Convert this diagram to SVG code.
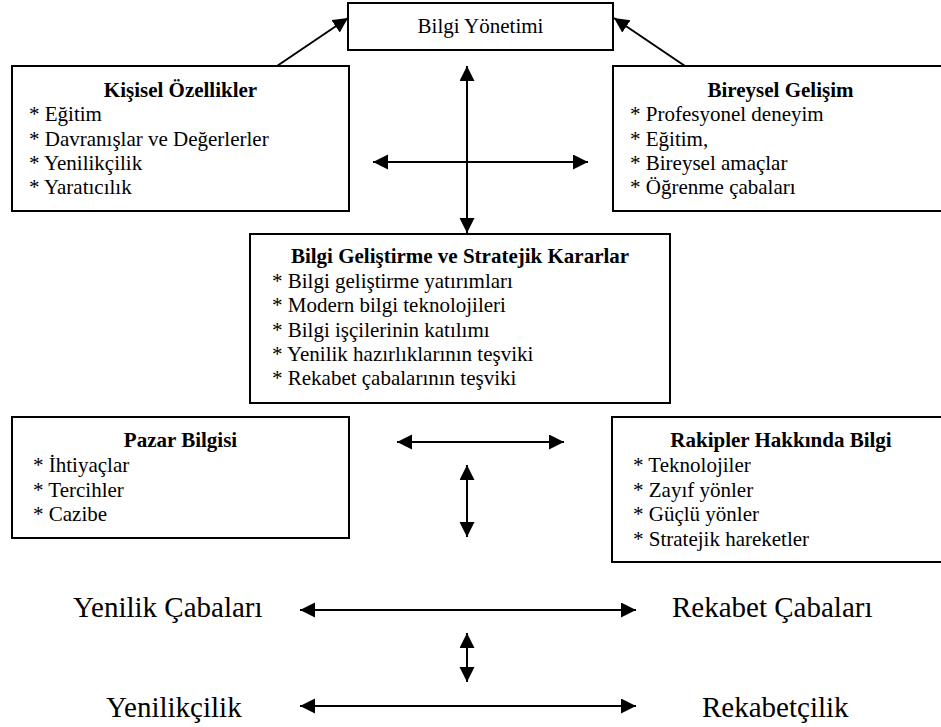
<svg xmlns="http://www.w3.org/2000/svg" width="941" height="727" viewBox="0 0 941 727" font-family="'Liberation Serif', 'Times New Roman', serif">
  <style>
    .box { fill: #ffffff; stroke: #000000; stroke-width: 2; }
    .lbl { font-family: 'Liberation Serif', 'Times New Roman', serif; font-size: 21px; fill: #000000; }
    .head { font-weight: bold; text-anchor: middle; }
    .mid { text-anchor: middle; }
    .big { font-family: 'Liberation Serif', 'Times New Roman', serif; font-size: 29px; fill: #000000; }
    .con { stroke: #000000; stroke-width: 2; fill: none; }
    .one { marker-end: url(#head); }
    .two { marker-start: url(#head); marker-end: url(#head); }
  </style>
  <defs>
    <marker id="head" markerUnits="userSpaceOnUse" markerWidth="16" markerHeight="16" refX="15" refY="7.5" orient="auto-start-reverse" viewBox="0 0 16 16">
      <path d="M0,0 L15,7.5 L0,15 Z" fill="#000000"/>
    </marker>
  </defs>

  <rect width="941" height="727" fill="#ffffff"/>

  <g id="connectors">
    <line class="con one" x1="277" y1="66" x2="348" y2="18"/>
    <line class="con one" x1="685" y1="66" x2="614" y2="18"/>
    <line class="con two" x1="467" y1="66" x2="467" y2="233"/>
    <line class="con two" x1="373" y1="162" x2="588" y2="162"/>
    <line class="con two" x1="397" y1="442" x2="564" y2="442"/>
    <line class="con two" x1="467" y1="465" x2="467" y2="537"/>
    <line class="con two" x1="300" y1="610" x2="636" y2="610"/>
    <line class="con two" x1="467" y1="633" x2="467" y2="682"/>
    <line class="con two" x1="300" y1="706" x2="636" y2="706"/>
  </g>

  <g id="bilgi-yonetimi" font-family="'Liberation Serif', serif">
    <rect class="box" x="348" y="3" width="265" height="47"/>
    <text class="lbl mid" x="480.5" y="33">Bilgi Yönetimi</text>
  </g>

  <g id="kisisel-ozellikler" font-family="'Liberation Serif', serif">
    <rect class="box" x="12" y="66" width="337" height="145"/>
    <text class="lbl head" x="180.5" y="97">Kişisel Özellikler</text>
    <text class="lbl" x="29" y="121">* Eğitim</text>
    <text class="lbl" x="29" y="145.5">* Davranışlar ve Değerlerler</text>
    <text class="lbl" x="29" y="169.5">* Yenilikçilik</text>
    <text class="lbl" x="29" y="194">* Yaratıcılık</text>
  </g>

  <g id="bireysel-gelisim" font-family="'Liberation Serif', serif">
    <rect class="box" x="613" y="66" width="337" height="145"/>
    <text class="lbl head" x="780.5" y="97">Bireysel Gelişim</text>
    <text class="lbl" x="630" y="121">* Profesyonel deneyim</text>
    <text class="lbl" x="630" y="145.5">* Eğitim,</text>
    <text class="lbl" x="630" y="169.5">* Bireysel amaçlar</text>
    <text class="lbl" x="630" y="194">* Öğrenme çabaları</text>
  </g>

  <g id="bilgi-gelistirme" font-family="'Liberation Serif', serif">
    <rect class="box" x="250" y="234" width="420" height="169"/>
    <text class="lbl head" x="460" y="263">Bilgi Geliştirme ve Stratejik Kararlar</text>
    <text class="lbl" x="272" y="288">* Bilgi geliştirme yatırımları</text>
    <text class="lbl" x="272" y="312">* Modern bilgi teknolojileri</text>
    <text class="lbl" x="272" y="336.5">* Bilgi işçilerinin katılımı</text>
    <text class="lbl" x="272" y="361">* Yenilik hazırlıklarının teşviki</text>
    <text class="lbl" x="272" y="385">* Rekabet çabalarının teşviki</text>
  </g>

  <g id="pazar-bilgisi" font-family="'Liberation Serif', serif">
    <rect class="box" x="12" y="417" width="337" height="121"/>
    <text class="lbl head" x="180.5" y="447">Pazar Bilgisi</text>
    <text class="lbl" x="33" y="472">* İhtiyaçlar</text>
    <text class="lbl" x="33" y="497">* Tercihler</text>
    <text class="lbl" x="33" y="521">* Cazibe</text>
  </g>

  <g id="rakipler-hakkinda-bilgi" font-family="'Liberation Serif', serif">
    <rect class="box" x="612" y="417" width="338" height="145"/>
    <text class="lbl head" x="781" y="447">Rakipler Hakkında Bilgi</text>
    <text class="lbl" x="633" y="472">* Teknolojiler</text>
    <text class="lbl" x="633" y="497">* Zayıf yönler</text>
    <text class="lbl" x="633" y="521">* Güçlü yönler</text>
    <text class="lbl" x="633" y="546">* Stratejik hareketler</text>
  </g>

  <g id="yenilik-cabalari">
    <text class="big" x="73" y="617">Yenilik Çabaları</text>
  </g>
  <g id="rekabet-cabalari">
    <text class="big" x="672" y="617">Rekabet Çabaları</text>
  </g>
  <g id="yenilikcilik">
    <text class="big" x="106" y="717">Yenilikçilik</text>
  </g>
  <g id="rekabetcilik">
    <text class="big" x="702" y="717">Rekabetçilik</text>
  </g>
</svg>
